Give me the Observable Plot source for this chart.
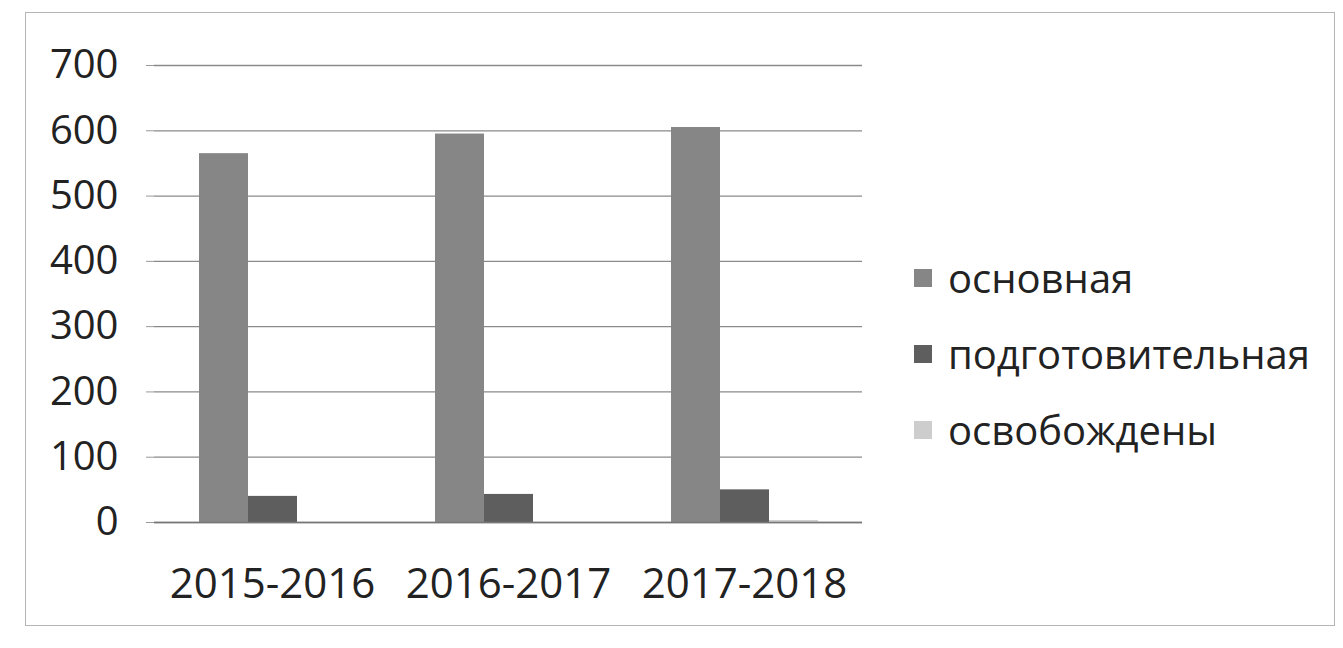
<!DOCTYPE html>
<html>
<head>
<meta charset="utf-8">
<script src="https://cdn.jsdelivr.net/npm/d3@7"></script>
<script src="https://cdn.jsdelivr.net/npm/@observablehq/plot@0.6"></script>
<style>
  html, body { margin: 0; padding: 0; background: #fff; }
  #wrap { position: relative; width: 1343px; height: 648px; overflow: hidden; font-family: "Open Sans", sans-serif; }
  #frame { position: absolute; left: 25px; top: 12px; width: 1308px; height: 612px; border: 1.5px solid #b5b5b5; pointer-events: none; }
  #chart { position: absolute; left: 0; top: 0; }
  #legend { position: absolute; left: 914px; top: 240px; font-size: 40px; color: #222; line-height: 1; }
  .item { display: flex; align-items: center; height: 76px; }
  .sw { width: 18px; height: 18px; margin-right: 16px; }
</style>
</head>
<body>
<div id="wrap">
  <div id="frame"></div>
  <div id="chart"></div>
  <div id="legend"></div>
</div>
<script>
const categories = ["2015-2016", "2016-2017", "2017-2018"];
const series = ["основная", "подготовительная", "освобождены"];
const osnovnaya = [565, 595, 605];
const podgotovitelnaya = [40, 43, 50];
const osvobozhdeny = [0, 0, 3];
const yTicks = [0, 100, 200, 300, 400, 500, 600, 700];
const colors = ["#868686", "#5e5e5e", "#cdcdcd"];

const valuesBySeries = [osnovnaya, podgotovitelnaya, osvobozhdeny];
const data = [];
categories.forEach((c, i) => {
  series.forEach((s, j) => data.push({category: c, series: s, value: valuesBySeries[j][i]}));
});

const chart = Plot.plot({
  width: 1343,
  height: 648,
  marginLeft: 154,
  marginRight: 481,
  marginTop: 65,
  marginBottom: 126,
  style: {fontFamily: "'Open Sans', sans-serif", background: "transparent"},
  fx: {domain: categories, padding: 0, label: null},
  x: {domain: series, paddingInner: 0, paddingOuter: 0.87, axis: null},
  y: {domain: [0, 700], label: null},
  color: {domain: series, range: colors},
  marks: [
    Plot.gridY(yTicks, {stroke: "#8a8a8a", strokeOpacity: 1, strokeWidth: 1.3}),
    Plot.axisY(yTicks, {fontSize: 40, fill: "#222", tickSize: 8, tickPadding: 28, stroke: "#999", label: null}),
    Plot.axisFx({anchor: "bottom", fontSize: 42, fill: "#222", tickSize: 0, tickPadding: 46, label: null}),
    Plot.barY(data, {fx: "category", x: "series", y: "value", fill: "series"}),
    Plot.ruleY([0], {stroke: "#777", strokeWidth: 1.5})
  ]
});
document.getElementById("chart").appendChild(chart);

const legend = document.getElementById("legend");
series.forEach((s, j) => {
  const item = document.createElement("div");
  item.className = "item";
  const sw = document.createElement("span");
  sw.className = "sw";
  sw.style.background = colors[j];
  const t = document.createElement("span");
  t.textContent = s;
  item.appendChild(sw);
  item.appendChild(t);
  legend.appendChild(item);
});
</script>
</body>
</html>
